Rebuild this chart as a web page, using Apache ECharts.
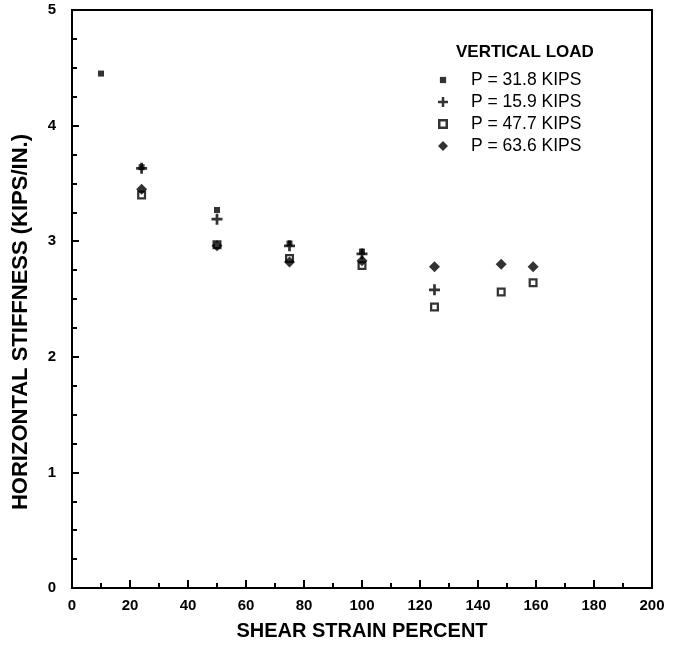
<!DOCTYPE html>
<html>
<head>
<meta charset="utf-8">
<script src="https://cdn.jsdelivr.net/npm/echarts@6/dist/echarts.min.js"></script>
<style>
html,body{margin:0;padding:0;background:#fff;}
#chart{width:684px;height:655px;}
</style>
</head>
<body>
<div id="chart"></div>
<script>
// Data
const seriesNames = ['P = 31.8 KIPS', 'P = 15.9 KIPS', 'P = 47.7 KIPS', 'P = 63.6 KIPS'];
const strainP318 = [10, 24, 50, 75, 100];
const stiffP318 = [4.45, 3.64, 3.27, 2.98, 2.91];
const strainP159 = [24, 50, 75, 100, 125];
const stiffP159 = [3.63, 3.19, 2.96, 2.89, 2.58];
const strainP477 = [24, 50, 75, 100, 125, 148, 159];
const stiffP477 = [3.40, 2.97, 2.85, 2.79, 2.43, 2.56, 2.64];
const strainP636 = [24, 50, 75, 100, 125, 148, 159];
const stiffP636 = [3.45, 2.96, 2.82, 2.83, 2.78, 2.80, 2.78];
const xTicks = [0, 20, 40, 60, 80, 100, 120, 140, 160, 180, 200];
const yTicks = [0, 1, 2, 3, 4, 5];

const pairs = (xs, ys) => xs.map((x, i) => [x, ys[i]]);

const SYM_SQUARE = 'path://M-1,-1H1V1H-1Z';
const SYM_SQUARE_LEG = 'path://M-1.6,-1.6M1.6,1.6M-1,-1H1V1H-1Z';
const SYM_PLUS = 'path://M-1,-0.25H-0.25V-1H0.25V-0.25H1V0.25H0.25V1H-0.25V0.25H-1Z';
const SYM_OPEN = 'path://M-1,-1H1V1H-1Z M-0.5,-0.5V0.5H0.5V-0.5Z';
const SYM_DIAMOND = 'path://M0,-1L1,0L0,1L-1,0Z';

const font = 'Liberation Sans, Arial, Helvetica, sans-serif';

const chart = echarts.init(document.getElementById('chart'), null, {renderer: 'canvas'});
chart.setOption({
  animation: false,
  backgroundColor: '#fff',
  title: {
    text: 'VERTICAL LOAD',
    left: 456, top: 44,
    padding: 0,
    textStyle: {fontFamily: font, fontWeight: 'bold', fontSize: 17, color: '#000'}
  },
  legend: {
    orient: 'vertical',
    left: 438, top: 71,
    padding: 0,
    itemWidth: 10, itemHeight: 10, itemGap: 4,
    selectedMode: false,
    textStyle: {fontFamily: font, fontSize: 17.5, color: '#000', padding: [0, 0, 0, 18]},
    data: [
      {name: seriesNames[0], icon: SYM_SQUARE_LEG},
      {name: seriesNames[1], icon: SYM_PLUS},
      {name: seriesNames[2], icon: SYM_OPEN},
      {name: seriesNames[3], icon: SYM_DIAMOND}
    ]
  },
  grid: {left: 72, right: 32, top: 10, bottom: 67, show: true, borderColor: '#000', borderWidth: 2, backgroundColor: 'transparent'},
  xAxis: {
    type: 'value', min: 0, max: 200, interval: 20,
    name: 'SHEAR STRAIN PERCENT', nameLocation: 'middle', nameGap: 33,
    nameTextStyle: {fontFamily: font, fontWeight: 'bold', fontSize: 20, color: '#000'},
    axisLine: {show: true, lineStyle: {color: '#000', width: 2}},
    axisTick: {show: true, inside: true, length: 8, lineStyle: {color: '#000', width: 2}},
    minorTick: {show: true, splitNumber: 2, length: 5, lineStyle: {color: '#000', width: 2}},
    splitLine: {show: false},
    axisLabel: {fontFamily: font, fontWeight: 'bold', fontSize: 15, color: '#000', margin: 10,
      formatter: v => xTicks.includes(v) ? String(v) : ''}
  },
  yAxis: {
    type: 'value', min: 0, max: 5, interval: 1,
    name: 'HORIZONTAL STIFFNESS (KIPS/IN.)', nameLocation: 'middle', nameGap: 40,
    nameTextStyle: {fontFamily: font, fontWeight: 'bold', fontSize: 22, color: '#000', padding: [0, 46, 0, 0]},
    axisLine: {show: true, lineStyle: {color: '#000', width: 2}},
    axisTick: {show: true, inside: true, length: 7, lineStyle: {color: '#000', width: 2}},
    minorTick: {show: true, splitNumber: 4, length: 5, lineStyle: {color: '#000', width: 2}},
    splitLine: {show: false},
    axisLabel: {fontFamily: font, fontWeight: 'bold', fontSize: 15, color: '#000', margin: 16,
      formatter: v => yTicks.includes(v) ? String(v) : ''}
  },
  series: [
    {name: seriesNames[0], type: 'scatter', data: pairs(strainP318, stiffP318), symbol: SYM_SQUARE, symbolSize: 6,
      itemStyle: {color: '#000'}, emphasis: {disabled: true}, z: 4},
    {name: seriesNames[1], type: 'scatter', data: pairs(strainP159, stiffP159), symbol: SYM_PLUS, symbolSize: 11,
      itemStyle: {color: '#000'}, emphasis: {disabled: true}, z: 3},
    {name: seriesNames[2], type: 'scatter', data: pairs(strainP477, stiffP477), symbol: SYM_OPEN, symbolSize: 9,
      itemStyle: {color: '#000'}, emphasis: {disabled: true}, z: 2},
    {name: seriesNames[3], type: 'scatter', data: pairs(strainP636, stiffP636), symbol: SYM_DIAMOND, symbolSize: 11,
      itemStyle: {color: '#000'}, emphasis: {disabled: true}, z: 2}
  ]
});
</script>
</body>
</html>
